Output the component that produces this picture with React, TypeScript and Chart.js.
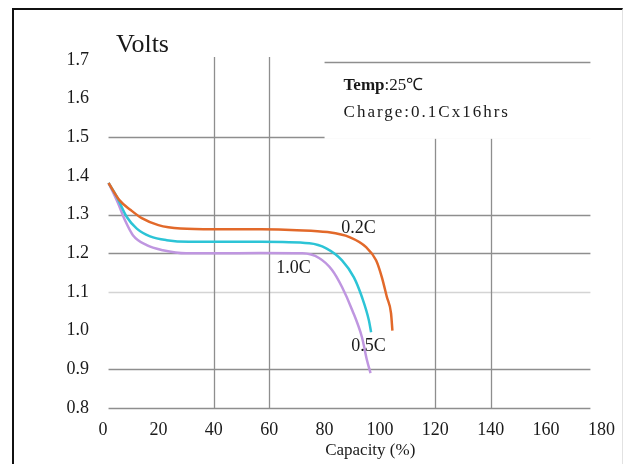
import React, { useEffect, useRef } from 'react';
import { Chart, registerables } from 'chart.js';

Chart.register(...registerables);

// ---- data ----
const cap02 = [2, 6, 10, 14, 20, 28, 40, 57, 70, 81, 89, 95, 98.6, 100.7, 102.5, 104, 104.5];
const volt02 = [1.382, 1.337, 1.312, 1.291, 1.273, 1.264, 1.262, 1.262, 1.26, 1.255, 1.242, 1.216, 1.182, 1.138, 1.087, 1.045, 1.0];

const cap05 = [2, 5, 8.6, 12.2, 17, 23, 31, 40, 57, 74.5, 80.6, 86.3, 90.6, 93.5, 96, 96.8];
const volt05 = [1.382, 1.346, 1.294, 1.264, 1.244, 1.234, 1.23, 1.23, 1.23, 1.226, 1.213, 1.182, 1.138, 1.087, 1.027, 0.996];

const cap10 = [2, 5.4, 7.9, 10.8, 15.8, 21.6, 30, 40, 57, 72, 78, 82.7, 86.3, 90, 93.5, 95.3, 96.6];
const volt10 = [1.382, 1.33, 1.286, 1.247, 1.221, 1.208, 1.2, 1.2, 1.201, 1.2, 1.188, 1.157, 1.113, 1.053, 0.983, 0.924, 0.89];

const seriesNames = ['0.2C', '0.5C', '1.0C'];
const seriesColors = ['#e2692a', '#2cc4d6', '#bf96e0'];

const xTickValues = [0, 20, 40, 60, 80, 100, 120, 140, 160, 180];
const yTickLabels = ['0.8', '0.9', '1.0', '1.1', '1.2', '1.3', '1.4', '1.5', '1.6', '1.7'];

const hGridValues = [1.5, 1.3, 1.2, 1.1, 0.9, 0.8];
const vGridValues = [40, 60, 120, 140];

const curveLabelTexts = ['0.2C', '1.0C', '0.5C'];
const curveLabelCaps = [86, 62.6, 89.6];
const curveLabelVolts = [1.264, 1.162, 0.96];

const yAxisTitle = 'Volts';
const xAxisTitle = 'Capacity (%)';
const noteLine1Bold = 'Temp';
const noteLine1Rest = ':25℃';
const noteLine2 = 'Charge:0.1Cx16hrs';

const SERIF = '"Liberation Serif", "Times New Roman", serif';

const toPoints = (xs: number[], ys: number[]) => xs.map((x, i) => ({ x, y: ys[i] }));

const decorPlugin = {
  id: 'decor',
  beforeDatasetsDraw(chart: any) {
    const { ctx, scales, chartArea } = chart;
    const x = scales.x;
    const y = scales.y;
    ctx.save();
    // horizontal grid lines
    ctx.lineWidth = 1.3;
    hGridValues.forEach((v) => {
      ctx.strokeStyle = v === 1.1 ? '#d4d4d4' : '#8e8e8e';
      const py = Math.round(y.getPixelForValue(v)) + 0.5;
      ctx.beginPath();
      ctx.moveTo(x.getPixelForValue(2), py);
      ctx.lineTo(x.getPixelForValue(176), py);
      ctx.stroke();
    });
    // vertical grid lines
    ctx.strokeStyle = '#8e8e8e';
    vGridValues.forEach((v) => {
      const px = Math.round(x.getPixelForValue(v)) + 0.5;
      ctx.beginPath();
      ctx.moveTo(px, y.getPixelForValue(0.8));
      ctx.lineTo(px, y.getPixelForValue(1.708));
      ctx.stroke();
    });
    // note box (covers grid behind it)
    const bx0 = x.getPixelForValue(80);
    const bx1 = x.getPixelForValue(176);
    const by0 = Math.round(y.getPixelForValue(1.694)) + 0.5;
    const by1 = y.getPixelForValue(1.5) + 1.5;
    ctx.fillStyle = '#ffffff';
    ctx.fillRect(bx0, chartArea.top - 8, bx1 - bx0 + 2, by1 - (chartArea.top - 8));
    ctx.strokeStyle = '#8e8e8e';
    ctx.beginPath();
    ctx.moveTo(bx0, by0);
    ctx.lineTo(bx1, by0);
    ctx.stroke();
    // note text
    ctx.fillStyle = '#1a1a1a';
    ctx.textBaseline = 'alphabetic';
    ctx.textAlign = 'left';
    ctx.font = `bold 17px ${SERIF}`;
    ctx.fillText(noteLine1Bold, bx0 + 19, by0 + 27);
    const w = ctx.measureText(noteLine1Bold).width;
    ctx.font = `17px ${SERIF}`;
    ctx.fillText(noteLine1Rest, bx0 + 19 + w, by0 + 27);
    (ctx as any).letterSpacing = '2px';
    ctx.fillText(noteLine2, bx0 + 19, by0 + 54);
    (ctx as any).letterSpacing = '0px';
    ctx.restore();
  },
  afterDatasetsDraw(chart: any) {
    const { ctx, scales, chartArea } = chart;
    const x = scales.x;
    const y = scales.y;
    ctx.save();
    ctx.fillStyle = '#1a1a1a';
    ctx.textAlign = 'left';
    ctx.textBaseline = 'middle';
    ctx.font = `18px ${SERIF}`;
    curveLabelTexts.forEach((t, i) => {
      ctx.fillText(t, x.getPixelForValue(curveLabelCaps[i]), y.getPixelForValue(curveLabelVolts[i]));
    });
    // axis titles
    ctx.textBaseline = 'alphabetic';
    ctx.font = `26px ${SERIF}`;
    ctx.fillText(yAxisTitle, chartArea.left + 13, chartArea.top - 8);
    ctx.font = `17px ${SERIF}`;
    ctx.textAlign = 'center';
    ctx.fillText(xAxisTitle, (chartArea.left + chartArea.right) / 2 + 18, chartArea.bottom + 47);
    ctx.restore();
  },
};

export default function App() {
  const canvasRef = useRef<HTMLCanvasElement | null>(null);

  useEffect(() => {
    if (!canvasRef.current) return;
    const allCaps = [cap02, cap05, cap10];
    const allVolts = [volt02, volt05, volt10];
    const chart = new Chart(canvasRef.current, {
      type: 'line',
      data: {
        datasets: seriesNames.map((name, i) => ({
          label: name,
          data: toPoints(allCaps[i], allVolts[i]),
          borderColor: seriesColors[i],
          backgroundColor: seriesColors[i],
          borderWidth: 2.5,
          pointRadius: 0,
          fill: false,
          cubicInterpolationMode: 'monotone' as const,
        })),
      },
      options: {
        animation: false,
        responsive: true,
        maintainAspectRatio: false,
        layout: { padding: { top: 60, right: 23, bottom: 0, left: 0 } },
        plugins: {
          legend: { display: false },
          tooltip: { enabled: false },
          title: { display: false },
        },
        scales: {
          x: {
            type: 'linear',
            min: 0,
            max: 180,
            border: { display: false },
            grid: { display: false, drawTicks: false },
            afterBuildTicks: (scale: any) => {
              scale.ticks = xTickValues.map((v) => ({ value: v }));
            },
            afterFit: (scale: any) => {
              scale.height = 56;
            },
            ticks: {
              autoSkip: false,
              maxRotation: 0,
              padding: 11,
              color: '#1a1a1a',
              font: { family: SERIF, size: 18 },
              callback: (v: any) => String(v),
            },
          },
          y: {
            type: 'linear',
            min: 0.8,
            max: 1.7,
            border: { display: false },
            grid: { display: false, drawTicks: false },
            afterBuildTicks: (scale: any) => {
              scale.ticks = yTickLabels.map((l) => ({ value: parseFloat(l) }));
            },
            afterFit: (scale: any) => {
              scale.width = 103;
            },
            ticks: {
              autoSkip: false,
              padding: 14,
              color: '#1a1a1a',
              font: { family: SERIF, size: 18 },
              callback: (v: any, i: number) => yTickLabels[i] ?? Number(v).toFixed(1),
            },
          },
        },
      },
      plugins: [decorPlugin],
    } as any);
    return () => chart.destroy();
  }, []);

  return (
    <div style={{ position: 'absolute', left: 0, top: 0, width: 626, height: 464, background: '#ffffff', overflow: 'hidden' }}>
      <div
        style={{
          position: 'absolute',
          left: 12,
          top: 8,
          width: 611,
          height: 470,
          borderLeft: '2px solid #111',
          borderTop: '2px solid #111',
          borderRight: '1px solid #e2e2e2',
          boxSizing: 'border-box',
        }}
      />
      <div style={{ position: 'absolute', left: 0, top: 0, width: 626, height: 464 }}>
        <canvas ref={canvasRef} />
      </div>
    </div>
  );
}
